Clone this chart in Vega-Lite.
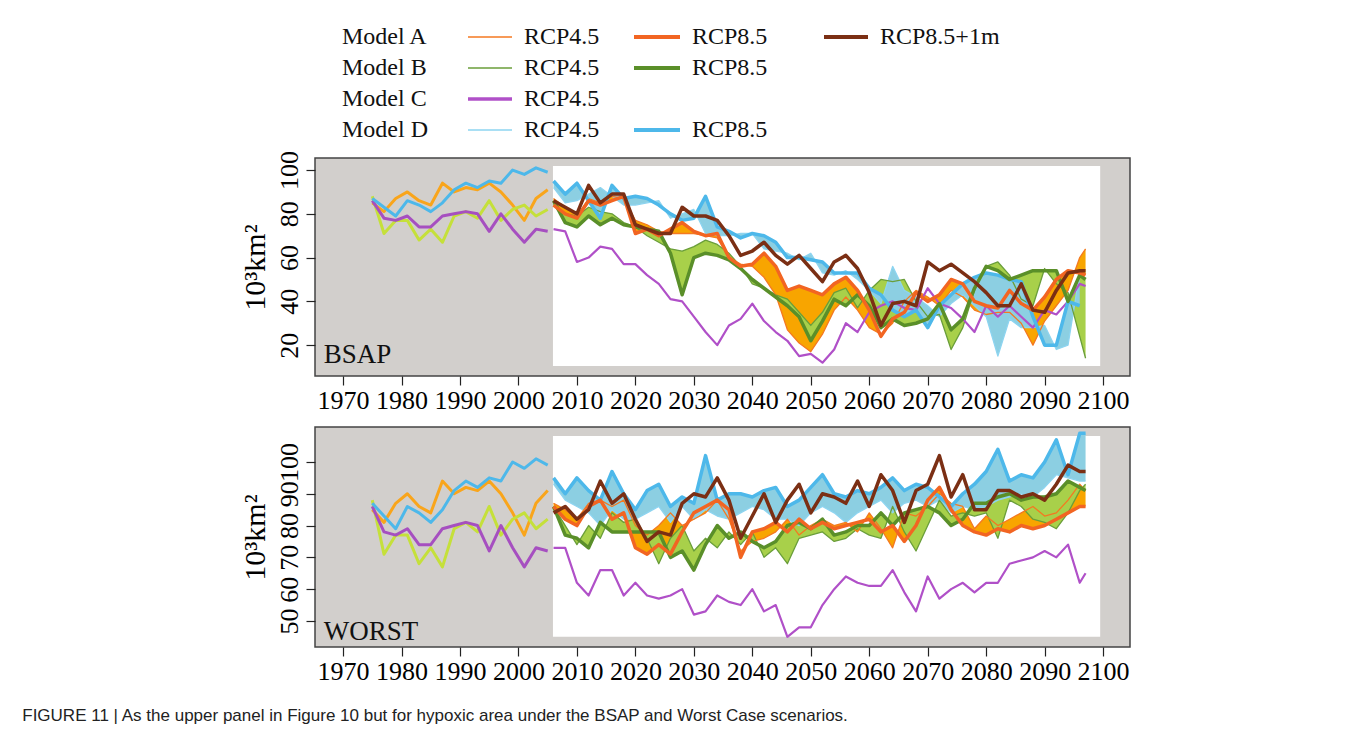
{
  "$schema": "https://vega.github.io/schema/vega-lite/v6.json",
  "background": "white",
  "padding": {"left": 22, "top": 0, "right": 0, "bottom": 0},
  "spacing": 51,
  "bounds": "flush",
  "title": {
    "text": "FIGURE 11 | As the upper panel in Figure 10 but for hypoxic area under the BSAP and Worst Case scenarios.",
    "orient": "bottom",
    "anchor": "start",
    "font": "Liberation Sans Narrow, Liberation Sans",
    "fontSize": 17,
    "fontWeight": "normal",
    "color": "#222",
    "dx": -217,
    "offset": 23
  },
  "datasets": {
    "hist": [
      {"yr": 1975, "hA": 85, "hB": 88, "hC": 86, "hD": 87},
      {"yr": 1977, "hA": 81, "hB": 71, "hC": 78, "hD": 83},
      {"yr": 1979, "hA": 87, "hB": 77, "hC": 77, "hD": 79},
      {"yr": 1981, "hA": 90, "hB": 77, "hC": 79, "hD": 86},
      {"yr": 1983, "hA": 86, "hB": 68, "hC": 74, "hD": 84},
      {"yr": 1985, "hA": 84, "hB": 73, "hC": 74, "hD": 81},
      {"yr": 1987, "hA": 94, "hB": 67, "hC": 79, "hD": 85},
      {"yr": 1989, "hA": 90, "hB": 79, "hC": 80, "hD": 91},
      {"yr": 1991, "hA": 92, "hB": 81, "hC": 81, "hD": 94},
      {"yr": 1993, "hA": 91, "hB": 78, "hC": 80, "hD": 92},
      {"yr": 1995, "hA": 94, "hB": 86, "hC": 72, "hD": 95},
      {"yr": 1997, "hA": 90, "hB": 77, "hC": 80, "hD": 94},
      {"yr": 1999, "hA": 84, "hB": 82, "hC": 73, "hD": 100},
      {"yr": 2001, "hA": 77, "hB": 84, "hC": 67, "hD": 98},
      {"yr": 2003, "hA": 87, "hB": 79, "hC": 73, "hD": 101},
      {"yr": 2005, "hA": 91, "hB": 82, "hC": 72, "hD": 99}
    ],
    "bsap": [
      {"yr": 2006, "a45": 87, "a85": 84, "a1m": 86, "b45": 84, "b85": 86, "c": 73, "d45": 92, "d85": 95},
      {"yr": 2008, "a45": 83, "a85": 80, "a1m": 83, "b45": 80, "b85": 76, "c": 72, "d45": 85, "d85": 89},
      {"yr": 2010, "a45": 79, "a85": 78, "a1m": 80, "b45": 79, "b85": 74, "c": 58, "d45": 86, "d85": 94},
      {"yr": 2012, "a45": 87, "a85": 86, "a1m": 93, "b45": 83, "b85": 79, "c": 60, "d45": 89, "d85": 86},
      {"yr": 2014, "a45": 85, "a85": 84, "a1m": 85, "b45": 81, "b85": 75, "c": 65, "d45": 92, "d85": 78},
      {"yr": 2016, "a45": 88, "a85": 86, "a1m": 89, "b45": 80, "b85": 78, "c": 64, "d45": 88, "d85": 93},
      {"yr": 2018, "a45": 87, "a85": 88, "a1m": 89, "b45": 76, "b85": 75, "c": 57, "d45": 84, "d85": 87},
      {"yr": 2020, "a45": 77, "a85": 71, "a1m": 75, "b45": 74, "b85": 74, "c": 57, "d45": 84, "d85": 88},
      {"yr": 2022, "a45": 75, "a85": 73, "a1m": 73, "b45": 70, "b85": 73, "c": 52, "d45": 85, "d85": 87},
      {"yr": 2024, "a45": 72, "a85": 70, "a1m": 71, "b45": 67, "b85": 72, "c": 48, "d45": 86, "d85": 84},
      {"yr": 2026, "a45": 71, "a85": 73, "a1m": 71, "b45": 64, "b85": 62, "c": 41, "d45": 78, "d85": 80},
      {"yr": 2028, "a45": 71, "a85": 76, "a1m": 83, "b45": 63, "b85": 43, "c": 40, "d45": 80, "d85": 77},
      {"yr": 2030, "a45": 71, "a85": 72, "a1m": 79, "b45": 65, "b85": 60, "c": 33, "d45": 82, "d85": 78},
      {"yr": 2032, "a45": 70, "a85": 70, "a1m": 79, "b45": 68, "b85": 62, "c": 26, "d45": 71, "d85": 88},
      {"yr": 2034, "a45": 69, "a85": 71, "a1m": 77, "b45": 66, "b85": 61, "c": 20, "d45": 70, "d85": 74},
      {"yr": 2036, "a45": 60, "a85": 60, "a1m": 70, "b45": 62, "b85": 59, "c": 29, "d45": 70, "d85": 72},
      {"yr": 2038, "a45": 57, "a85": 56, "a1m": 61, "b45": 56, "b85": 55, "c": 32, "d45": 71, "d85": 69},
      {"yr": 2040, "a45": 56, "a85": 57, "a1m": 63, "b45": 48, "b85": 50, "c": 39, "d45": 71, "d85": 71},
      {"yr": 2042, "a45": 51, "a85": 62, "a1m": 67, "b45": 46, "b85": 46, "c": 31, "d45": 64, "d85": 70},
      {"yr": 2044, "a45": 43, "a85": 56, "a1m": 61, "b45": 43, "b85": 42, "c": 26, "d45": 63, "d85": 67},
      {"yr": 2046, "a45": 27, "a85": 45, "a1m": 57, "b45": 41, "b85": 38, "c": 22, "d45": 62, "d85": 60},
      {"yr": 2048, "a45": 21, "a85": 47, "a1m": 61, "b45": 35, "b85": 33, "c": 15, "d45": 59, "d85": 60},
      {"yr": 2050, "a45": 17, "a85": 45, "a1m": 55, "b45": 29, "b85": 22, "c": 16, "d45": 62, "d85": 59},
      {"yr": 2052, "a45": 25, "a85": 43, "a1m": 49, "b45": 35, "b85": 31, "c": 12, "d45": 53, "d85": 58},
      {"yr": 2054, "a45": 36, "a85": 48, "a1m": 58, "b45": 44, "b85": 41, "c": 18, "d45": 52, "d85": 53},
      {"yr": 2056, "a45": 42, "a85": 51, "a1m": 61, "b45": 46, "b85": 38, "c": 30, "d45": 54, "d85": 53},
      {"yr": 2058, "a45": 36, "a85": 45, "a1m": 55, "b45": 37, "b85": 43, "c": 26, "d45": 50, "d85": 53},
      {"yr": 2060, "a45": 28, "a85": 36, "a1m": 44, "b45": 45, "b85": 38, "c": 35, "d45": 45, "d85": 46},
      {"yr": 2062, "a45": 25, "a85": 24, "a1m": 29, "b45": 50, "b85": 28, "c": 38, "d45": 39, "d85": 43},
      {"yr": 2064, "a45": 30, "a85": 32, "a1m": 39, "b45": 49, "b85": 32, "c": 40, "d45": 56, "d85": 36},
      {"yr": 2066, "a45": 40, "a85": 35, "a1m": 40, "b45": 50, "b85": 29, "c": 37, "d45": 45, "d85": 33},
      {"yr": 2068, "a45": 45, "a85": 44, "a1m": 38, "b45": 40, "b85": 30, "c": 36, "d45": 42, "d85": 36},
      {"yr": 2070, "a45": 42, "a85": 40, "a1m": 58, "b45": 33, "b85": 32, "c": 46, "d45": 38, "d85": 28},
      {"yr": 2072, "a45": 38, "a85": 43, "a1m": 54, "b45": 34, "b85": 39, "c": 39, "d45": 33, "d85": 38},
      {"yr": 2074, "a45": 45, "a85": 50, "a1m": 57, "b45": 18, "b85": 27, "c": 37, "d45": 39, "d85": 43},
      {"yr": 2076, "a45": 42, "a85": 48, "a1m": 53, "b45": 28, "b85": 32, "c": 32, "d45": 43, "d85": 48},
      {"yr": 2078, "a45": 36, "a85": 40, "a1m": 49, "b45": 45, "b85": 46, "c": 26, "d45": 38, "d85": 51},
      {"yr": 2080, "a45": 34, "a85": 38, "a1m": 44, "b45": 56, "b85": 56, "c": 38, "d45": 33, "d85": 53},
      {"yr": 2082, "a45": 35, "a85": 37, "a1m": 38, "b45": 58, "b85": 54, "c": 33, "d45": 15, "d85": 52},
      {"yr": 2084, "a45": 35, "a85": 45, "a1m": 38, "b45": 52, "b85": 50, "c": 38, "d45": 32, "d85": 50},
      {"yr": 2086, "a45": 30, "a85": 39, "a1m": 48, "b45": 41, "b85": 52, "c": 33, "d45": 28, "d85": 49},
      {"yr": 2088, "a45": 20, "a85": 36, "a1m": 36, "b45": 38, "b85": 54, "c": 28, "d45": 28, "d85": 33},
      {"yr": 2090, "a45": 31, "a85": 42, "a1m": 35, "b45": 55, "b85": 54, "c": 36, "d45": 29, "d85": 20},
      {"yr": 2092, "a45": 38, "a85": 50, "a1m": 45, "b45": 48, "b85": 54, "c": 34, "d45": 18, "d85": 20},
      {"yr": 2094, "a45": 45, "a85": 54, "a1m": 53, "b45": 44, "b85": 40, "c": 40, "d45": 20, "d85": 40},
      {"yr": 2096, "a45": 60, "a85": 53, "a1m": 54, "b45": 24, "b85": 52, "c": 48, "d45": 53, "d85": 38},
      {"yr": 2097, "a45": 64, "a85": 52, "a1m": 54, "b45": 14, "b85": 50, "c": 47, "d45": null, "d85": null}
    ],
    "worst": [
      {"yr": 2006, "a45": 87, "a85": 86, "a1m": 84, "b45": 86, "b85": 86, "c": 73, "d45": 93, "d85": 95},
      {"yr": 2008, "a45": 85, "a85": 82, "a1m": 86, "b45": 80, "b85": 77, "c": 73, "d45": 88, "d85": 90},
      {"yr": 2010, "a45": 82, "a85": 80, "a1m": 82, "b45": 74, "b85": 76, "c": 62, "d45": 86, "d85": 95},
      {"yr": 2012, "a45": 87, "a85": 86, "a1m": 85, "b45": 80, "b85": 73, "c": 58, "d45": 84, "d85": 91},
      {"yr": 2014, "a45": 88, "a85": 88, "a1m": 94, "b45": 76, "b85": 81, "c": 66, "d45": 80, "d85": 88},
      {"yr": 2016, "a45": 86, "a85": 82, "a1m": 87, "b45": 84, "b85": 78, "c": 66, "d45": 85, "d85": 97},
      {"yr": 2018, "a45": 88, "a85": 84, "a1m": 90, "b45": 81, "b85": 78, "c": 58, "d45": 82, "d85": 90},
      {"yr": 2020, "a45": 80, "a85": 73, "a1m": 82, "b45": 82, "b85": 78, "c": 62, "d45": 82, "d85": 85},
      {"yr": 2022, "a45": 77, "a85": 71, "a1m": 75, "b45": 76, "b85": 78, "c": 58, "d45": 84, "d85": 91},
      {"yr": 2024, "a45": 80, "a85": 74, "a1m": 78, "b45": 68, "b85": 78, "c": 57, "d45": 86, "d85": 93},
      {"yr": 2026, "a45": 84, "a85": 71, "a1m": 77, "b45": 76, "b85": 70, "c": 58, "d45": 81, "d85": 86},
      {"yr": 2028, "a45": 80, "a85": 78, "a1m": 87, "b45": 80, "b85": 72, "c": 60, "d45": 86, "d85": 89},
      {"yr": 2030, "a45": 82, "a85": 84, "a1m": 90, "b45": 72, "b85": 66, "c": 52, "d45": 82, "d85": 87},
      {"yr": 2032, "a45": 84, "a85": 86, "a1m": 89, "b45": 76, "b85": 74, "c": 53, "d45": 85, "d85": 102},
      {"yr": 2034, "a45": 88, "a85": 88, "a1m": 95, "b45": 73, "b85": 80, "c": 58, "d45": 83, "d85": 88},
      {"yr": 2036, "a45": 82, "a85": 85, "a1m": 88, "b45": 78, "b85": 76, "c": 56, "d45": 82, "d85": 90},
      {"yr": 2038, "a45": 72, "a85": 70, "a1m": 76, "b45": 74, "b85": 78, "c": 55, "d45": 84, "d85": 90},
      {"yr": 2040, "a45": 75, "a85": 78, "a1m": 83, "b45": 78, "b85": 75, "c": 60, "d45": 86, "d85": 89},
      {"yr": 2042, "a45": 76, "a85": 79, "a1m": 90, "b45": 70, "b85": 73, "c": 53, "d45": 85, "d85": 91},
      {"yr": 2044, "a45": 78, "a85": 81, "a1m": 81, "b45": 73, "b85": 75, "c": 55, "d45": 82, "d85": 92},
      {"yr": 2046, "a45": 82, "a85": 78, "a1m": 88, "b45": 68, "b85": 80, "c": 45, "d45": 82, "d85": 86},
      {"yr": 2048, "a45": 77, "a85": 82, "a1m": 93, "b45": 76, "b85": 81, "c": 48, "d45": 80, "d85": 88},
      {"yr": 2050, "a45": 80, "a85": 79, "a1m": 84, "b45": 77, "b85": 79, "c": 48, "d45": 84, "d85": 92},
      {"yr": 2052, "a45": 82, "a85": 81, "a1m": 90, "b45": 78, "b85": 82, "c": 55, "d45": 86, "d85": 96},
      {"yr": 2054, "a45": 80, "a85": 79, "a1m": 89, "b45": 75, "b85": 77, "c": 60, "d45": 84, "d85": 90},
      {"yr": 2056, "a45": 81, "a85": 80, "a1m": 87, "b45": 76, "b85": 78, "c": 64, "d45": 81, "d85": 89},
      {"yr": 2058, "a45": 78, "a85": 81, "a1m": 94, "b45": 79, "b85": 80, "c": 62, "d45": 84, "d85": 91},
      {"yr": 2060, "a45": 84, "a85": 82, "a1m": 86, "b45": 77, "b85": 80, "c": 61, "d45": 86, "d85": 90},
      {"yr": 2062, "a45": 79, "a85": 78, "a1m": 96, "b45": 76, "b85": 84, "c": 61, "d45": 88, "d85": 92},
      {"yr": 2064, "a45": 73, "a85": 80, "a1m": 91, "b45": 86, "b85": 80, "c": 66, "d45": 84, "d85": 95},
      {"yr": 2066, "a45": 84, "a85": 75, "a1m": 81, "b45": 78, "b85": 84, "c": 59, "d45": 87, "d85": 91},
      {"yr": 2068, "a45": 83, "a85": 80, "a1m": 91, "b45": 72, "b85": 85, "c": 53, "d45": 88, "d85": 93},
      {"yr": 2070, "a45": 86, "a85": 88, "a1m": 93, "b45": 80, "b85": 86, "c": 64, "d45": 86, "d85": 92},
      {"yr": 2072, "a45": 90, "a85": 92, "a1m": 102, "b45": 88, "b85": 84, "c": 57, "d45": 88, "d85": 89},
      {"yr": 2074, "a45": 87, "a85": 85, "a1m": 89, "b45": 83, "b85": 80, "c": 60, "d45": 84, "d85": 86},
      {"yr": 2076, "a45": 86, "a85": 80, "a1m": 96, "b45": 84, "b85": 82, "c": 62, "d45": 86, "d85": 90},
      {"yr": 2078, "a45": 79, "a85": 78, "a1m": 85, "b45": 83, "b85": 87, "c": 59, "d45": 85, "d85": 93},
      {"yr": 2080, "a45": 83, "a85": 77, "a1m": 85, "b45": 84, "b85": 87, "c": 62, "d45": 86, "d85": 97},
      {"yr": 2082, "a45": 80, "a85": 79, "a1m": 91, "b45": 76, "b85": 89, "c": 62, "d45": 88, "d85": 104},
      {"yr": 2084, "a45": 82, "a85": 78, "a1m": 91, "b45": 88, "b85": 90, "c": 68, "d45": 89, "d85": 94},
      {"yr": 2086, "a45": 84, "a85": 80, "a1m": 89, "b45": 86, "b85": 88, "c": 69, "d45": 90, "d85": 96},
      {"yr": 2088, "a45": 86, "a85": 79, "a1m": 90, "b45": 82, "b85": 89, "c": 70, "d45": 89, "d85": 95},
      {"yr": 2090, "a45": 83, "a85": 80, "a1m": 88, "b45": 81, "b85": 89, "c": 72, "d45": 92, "d85": 100},
      {"yr": 2092, "a45": 84, "a85": 82, "a1m": 93, "b45": 79, "b85": 90, "c": 70, "d45": 96, "d85": 107},
      {"yr": 2094, "a45": 88, "a85": 84, "a1m": 99, "b45": 84, "b85": 94, "c": 74, "d45": 95, "d85": 96},
      {"yr": 2096, "a45": 93, "a85": 86, "a1m": 97, "b45": 91, "b85": 92, "c": 62, "d45": 94, "d85": 109},
      {"yr": 2097, "a45": 91, "a85": 86, "a1m": 97, "b45": 93, "b85": 91, "c": 65, "d45": 94, "d85": 109}
    ],
    "legendLines": [
      {"series": "a45", "w": "thin", "row": 1, "x1": 153, "x2": 197},
      {"series": "a85", "w": "thick", "row": 1, "x1": 319, "x2": 365},
      {"series": "a1m", "w": "thick", "row": 1, "x1": 509, "x2": 553},
      {"series": "b45", "w": "thin", "row": 2, "x1": 153, "x2": 197},
      {"series": "b85", "w": "thick", "row": 2, "x1": 319, "x2": 365},
      {"series": "c", "w": "mid", "row": 3, "x1": 153, "x2": 197},
      {"series": "d45", "w": "thin", "row": 4, "x1": 153, "x2": 197},
      {"series": "d85", "w": "thick", "row": 4, "x1": 319, "x2": 365}
    ],
    "legendText": [
      {"row": 1, "x": 27, "label": "Model A"},
      {"row": 2, "x": 27, "label": "Model B"},
      {"row": 3, "x": 27, "label": "Model C"},
      {"row": 4, "x": 27, "label": "Model D"},
      {"row": 1, "x": 209, "label": "RCP4.5"},
      {"row": 1, "x": 377, "label": "RCP8.5"},
      {"row": 1, "x": 565, "label": "RCP8.5+1m"},
      {"row": 2, "x": 209, "label": "RCP4.5"},
      {"row": 2, "x": 377, "label": "RCP8.5"},
      {"row": 3, "x": 209, "label": "RCP4.5"},
      {"row": 4, "x": 209, "label": "RCP4.5"},
      {"row": 4, "x": 377, "label": "RCP8.5"}
    ]
  },
  "vconcat": [
    {
      "width": 815,
      "height": 107,
      "view": {"stroke": null, "fill": null},
      "encoding": {
        "x": {"field": "x1", "type": "quantitative", "scale": {"domain": [0, 815]}, "axis": null},
        "y": {"field": "row", "type": "quantitative", "scale": {"domain": [-0.194, 3.258], "reverse": true}, "axis": null}
      },
      "layer": [
        {
          "data": {"name": "legendLines"},
          "transform": [{"filter": "datum.w === 'thin'"}],
          "mark": {"type": "rule", "strokeWidth": 1.3},
          "encoding": {"x2": {"field": "x2"}, "color": {"field": "series", "type": "nominal", "legend": null, "scale": {"domain": ["hA", "hB", "hC", "hD", "c", "d45", "b45", "a45", "d85", "b85", "a85", "a1m"], "range": ["#f9a51b", "#c5e03a", "#a64fc0", "#4db8ea", "#b050c8", "#8dd4f0", "#6a9e3a", "#f47920", "#4db8ea", "#5a8f29", "#f26522", "#7b2f14"]}}}
        },
        {
          "data": {"name": "legendLines"},
          "transform": [{"filter": "datum.w === 'mid'"}],
          "mark": {"type": "rule", "strokeWidth": 3.5},
          "encoding": {"x2": {"field": "x2"}, "color": {"field": "series", "type": "nominal", "legend": null, "scale": {"domain": ["hA", "hB", "hC", "hD", "c", "d45", "b45", "a45", "d85", "b85", "a85", "a1m"], "range": ["#f9a51b", "#c5e03a", "#a64fc0", "#4db8ea", "#b050c8", "#8dd4f0", "#6a9e3a", "#f47920", "#4db8ea", "#5a8f29", "#f26522", "#7b2f14"]}}}
        },
        {
          "data": {"name": "legendLines"},
          "transform": [{"filter": "datum.w === 'thick'"}],
          "mark": {"type": "rule", "strokeWidth": 3.8},
          "encoding": {"x2": {"field": "x2"}, "color": {"field": "series", "type": "nominal", "legend": null, "scale": {"domain": ["hA", "hB", "hC", "hD", "c", "d45", "b45", "a45", "d85", "b85", "a85", "a1m"], "range": ["#f9a51b", "#c5e03a", "#a64fc0", "#4db8ea", "#b050c8", "#8dd4f0", "#6a9e3a", "#f47920", "#4db8ea", "#5a8f29", "#f26522", "#7b2f14"]}}}
        },
        {
          "data": {"name": "legendText"},
          "mark": {"type": "text", "align": "left", "baseline": "middle", "font": "Liberation Serif", "fontSize": 24, "color": "#111"},
          "encoding": {
            "x": {"field": "x", "type": "quantitative", "scale": {"domain": [0, 815]}, "axis": null},
            "text": {"field": "label"}
          }
        }
      ]
    },
    {
      "width": 815,
      "height": 218,
      "view": {"fill": "#d2cfcc", "stroke": "#444", "strokeWidth": 1.5},
      "layer": [
        {
          "data": {"values": [{"yr": 2005.9, "yr2": 2099.5, "v": 10.5, "v2": 101.8}]},
          "mark": {"type": "rect", "fill": "white"},
          "encoding": {
            "x": {
              "field": "yr", "type": "quantitative", "title": null,
              "scale": {"domain": [1965.2, 2104.6], "nice": false, "zero": false},
              "axis": {
                "values": [1970, 1975, 1980, 1985, 1990, 1995, 2000, 2005, 2010, 2015, 2020, 2025, 2030, 2035, 2040, 2045, 2050, 2055, 2060, 2065, 2070, 2075, 2080, 2085, 2090, 2095, 2100],
                "format": "d", "labelExpr": "datum.value % 10 === 0 ? datum.label : ''",
                "labelOverlap": false, "labelFlush": false, "labelPadding": 2, "tickSize": 9
              }
            },
            "x2": {"field": "yr2"},
            "y": {
              "field": "v", "type": "quantitative", "title": "10³km²",
              "scale": {"domain": [5.9, 105.5], "nice": false, "zero": false},
              "axis": {"values": [20, 40, 60, 80, 100], "labelAngle": -90, "labelAlign": "center", "labelBaseline": "bottom", "labelPadding": 4, "labelOverlap": false, "tickSize": 9, "titlePadding": 6}
            },
            "y2": {"field": "v2"}
          }
        },
        {
          "data": {"name": "bsap"},
          "transform": [{"filter": "isValid(datum.a45)"}],
          "mark": {"type": "area", "color": "#f8a500", "opacity": 1},
          "encoding": {
            "x": {"field": "yr", "type": "quantitative", "title": null},
            "y": {"field": "a45", "type": "quantitative", "title": "10³km²"},
            "y2": {"field": "a85"}
          }
        },
        {
          "data": {"name": "bsap"},
          "transform": [{"filter": "isValid(datum.b45)"}],
          "mark": {"type": "area", "color": "#a8d04a", "opacity": 1},
          "encoding": {
            "x": {"field": "yr", "type": "quantitative", "title": null},
            "y": {"field": "b45", "type": "quantitative", "title": "10³km²"},
            "y2": {"field": "b85"}
          }
        },
        {
          "data": {"name": "bsap"},
          "transform": [{"filter": "isValid(datum.d45)"}],
          "mark": {"type": "area", "color": "#8ccfe2", "opacity": 1},
          "encoding": {
            "x": {"field": "yr", "type": "quantitative", "title": null},
            "y": {"field": "d45", "type": "quantitative", "title": "10³km²"},
            "y2": {"field": "d85"}
          }
        },
        {
          "data": {"name": "hist"},
          "transform": [{"fold": ["hA", "hB", "hC", "hD"], "as": ["series", "value"]}],
          "mark": {"type": "line", "strokeJoin": "round", "strokeWidth": 3},
          "encoding": {
            "x": {"field": "yr", "type": "quantitative", "title": null},
            "y": {"field": "value", "type": "quantitative", "title": "10³km²"},
            "color": {"field": "series", "type": "nominal", "legend": null, "scale": {"domain": ["hA", "hB", "hC", "hD", "c", "d45", "b45", "a45", "d85", "b85", "a85", "a1m"], "range": ["#f9a51b", "#c5e03a", "#a64fc0", "#4db8ea", "#b050c8", "#8dd4f0", "#6a9e3a", "#f47920", "#4db8ea", "#5a8f29", "#f26522", "#7b2f14"]}}
          }
        },
        {
          "data": {"name": "bsap"},
          "transform": [{"fold": ["d45", "b45", "a45"], "as": ["series", "value"]}, {"filter": "isValid(datum.value)"}],
          "mark": {"type": "line", "strokeJoin": "round", "strokeWidth": 1.3},
          "encoding": {
            "x": {"field": "yr", "type": "quantitative", "title": null},
            "y": {"field": "value", "type": "quantitative", "title": "10³km²"},
            "color": {"field": "series", "type": "nominal", "legend": null, "scale": {"domain": ["hA", "hB", "hC", "hD", "c", "d45", "b45", "a45", "d85", "b85", "a85", "a1m"], "range": ["#f9a51b", "#c5e03a", "#a64fc0", "#4db8ea", "#b050c8", "#8dd4f0", "#6a9e3a", "#f47920", "#4db8ea", "#5a8f29", "#f26522", "#7b2f14"]}}
          }
        },
        {
          "data": {"name": "bsap"},
          "transform": [{"fold": ["c"], "as": ["series", "value"]}],
          "mark": {"type": "line", "strokeJoin": "round", "strokeWidth": 2.2},
          "encoding": {
            "x": {"field": "yr", "type": "quantitative", "title": null},
            "y": {"field": "value", "type": "quantitative", "title": "10³km²"},
            "color": {"field": "series", "type": "nominal", "legend": null, "scale": {"domain": ["hA", "hB", "hC", "hD", "c", "d45", "b45", "a45", "d85", "b85", "a85", "a1m"], "range": ["#f9a51b", "#c5e03a", "#a64fc0", "#4db8ea", "#b050c8", "#8dd4f0", "#6a9e3a", "#f47920", "#4db8ea", "#5a8f29", "#f26522", "#7b2f14"]}}
          }
        },
        {
          "data": {"name": "bsap"},
          "transform": [{"fold": ["d85", "b85", "a85", "a1m"], "as": ["series", "value"]}, {"filter": "isValid(datum.value)"}],
          "mark": {"type": "line", "strokeJoin": "round", "strokeWidth": 3.5},
          "encoding": {
            "x": {"field": "yr", "type": "quantitative", "title": null},
            "y": {"field": "value", "type": "quantitative", "title": "10³km²"},
            "color": {"field": "series", "type": "nominal", "legend": null, "scale": {"domain": ["hA", "hB", "hC", "hD", "c", "d45", "b45", "a45", "d85", "b85", "a85", "a1m"], "range": ["#f9a51b", "#c5e03a", "#a64fc0", "#4db8ea", "#b050c8", "#8dd4f0", "#6a9e3a", "#f47920", "#4db8ea", "#5a8f29", "#f26522", "#7b2f14"]}}
          }
        },
        {
          "data": {"values": [{"yr": 1966.7, "v": 15.5, "label": "BSAP"}]},
          "mark": {"type": "text", "align": "left", "baseline": "middle", "font": "Liberation Serif", "fontSize": 27, "color": "#111"},
          "encoding": {
            "x": {"field": "yr", "type": "quantitative", "title": null},
            "y": {"field": "v", "type": "quantitative", "title": "10³km²"},
            "text": {"field": "label"}
          }
        }
      ]
    },
    {
      "width": 815,
      "height": 220,
      "view": {"fill": "#d2cfcc", "stroke": "#444", "strokeWidth": 1.5},
      "layer": [
        {
          "data": {"values": [{"yr": 2005.9, "yr2": 2099.5, "v": 45, "v2": 108.2}]},
          "mark": {"type": "rect", "fill": "white"},
          "encoding": {
            "x": {
              "field": "yr", "type": "quantitative", "title": null,
              "scale": {"domain": [1965.2, 2104.6], "nice": false, "zero": false},
              "axis": {
                "values": [1970, 1975, 1980, 1985, 1990, 1995, 2000, 2005, 2010, 2015, 2020, 2025, 2030, 2035, 2040, 2045, 2050, 2055, 2060, 2065, 2070, 2075, 2080, 2085, 2090, 2095, 2100],
                "format": "d", "labelExpr": "datum.value % 10 === 0 ? datum.label : ''",
                "labelOverlap": false, "labelFlush": false, "labelPadding": 2, "tickSize": 9
              }
            },
            "x2": {"field": "yr2"},
            "y": {
              "field": "v", "type": "quantitative", "title": "10³km²",
              "scale": {"domain": [41.8, 111], "nice": false, "zero": false},
              "axis": {"values": [50, 60, 70, 80, 90, 100], "labelAngle": -90, "labelAlign": "center", "labelBaseline": "bottom", "labelPadding": 4, "labelOverlap": false, "tickSize": 9, "titlePadding": 6}
            },
            "y2": {"field": "v2"}
          }
        },
        {
          "data": {"name": "worst"},
          "mark": {"type": "area", "color": "#f8a500", "opacity": 1},
          "encoding": {
            "x": {"field": "yr", "type": "quantitative", "title": null},
            "y": {"field": "a45", "type": "quantitative", "title": "10³km²"},
            "y2": {"field": "a85"}
          }
        },
        {
          "data": {"name": "worst"},
          "mark": {"type": "area", "color": "#a8d04a", "opacity": 1},
          "encoding": {
            "x": {"field": "yr", "type": "quantitative", "title": null},
            "y": {"field": "b45", "type": "quantitative", "title": "10³km²"},
            "y2": {"field": "b85"}
          }
        },
        {
          "data": {"name": "worst"},
          "mark": {"type": "area", "color": "#8ccfe2", "opacity": 1},
          "encoding": {
            "x": {"field": "yr", "type": "quantitative", "title": null},
            "y": {"field": "d45", "type": "quantitative", "title": "10³km²"},
            "y2": {"field": "d85"}
          }
        },
        {
          "data": {"name": "hist"},
          "transform": [{"fold": ["hA", "hB", "hC", "hD"], "as": ["series", "value"]}],
          "mark": {"type": "line", "strokeJoin": "round", "strokeWidth": 3},
          "encoding": {
            "x": {"field": "yr", "type": "quantitative", "title": null},
            "y": {"field": "value", "type": "quantitative", "title": "10³km²"},
            "color": {"field": "series", "type": "nominal", "legend": null, "scale": {"domain": ["hA", "hB", "hC", "hD", "c", "d45", "b45", "a45", "d85", "b85", "a85", "a1m"], "range": ["#f9a51b", "#c5e03a", "#a64fc0", "#4db8ea", "#b050c8", "#8dd4f0", "#6a9e3a", "#f47920", "#4db8ea", "#5a8f29", "#f26522", "#7b2f14"]}}
          }
        },
        {
          "data": {"name": "worst"},
          "transform": [{"fold": ["d45", "b45", "a45"], "as": ["series", "value"]}, {"filter": "isValid(datum.value)"}],
          "mark": {"type": "line", "strokeJoin": "round", "strokeWidth": 1.3},
          "encoding": {
            "x": {"field": "yr", "type": "quantitative", "title": null},
            "y": {"field": "value", "type": "quantitative", "title": "10³km²"},
            "color": {"field": "series", "type": "nominal", "legend": null, "scale": {"domain": ["hA", "hB", "hC", "hD", "c", "d45", "b45", "a45", "d85", "b85", "a85", "a1m"], "range": ["#f9a51b", "#c5e03a", "#a64fc0", "#4db8ea", "#b050c8", "#8dd4f0", "#6a9e3a", "#f47920", "#4db8ea", "#5a8f29", "#f26522", "#7b2f14"]}}
          }
        },
        {
          "data": {"name": "worst"},
          "transform": [{"fold": ["c"], "as": ["series", "value"]}],
          "mark": {"type": "line", "strokeJoin": "round", "strokeWidth": 2.2},
          "encoding": {
            "x": {"field": "yr", "type": "quantitative", "title": null},
            "y": {"field": "value", "type": "quantitative", "title": "10³km²"},
            "color": {"field": "series", "type": "nominal", "legend": null, "scale": {"domain": ["hA", "hB", "hC", "hD", "c", "d45", "b45", "a45", "d85", "b85", "a85", "a1m"], "range": ["#f9a51b", "#c5e03a", "#a64fc0", "#4db8ea", "#b050c8", "#8dd4f0", "#6a9e3a", "#f47920", "#4db8ea", "#5a8f29", "#f26522", "#7b2f14"]}}
          }
        },
        {
          "data": {"name": "worst"},
          "transform": [{"fold": ["d85", "b85", "a85", "a1m"], "as": ["series", "value"]}, {"filter": "isValid(datum.value)"}],
          "mark": {"type": "line", "strokeJoin": "round", "strokeWidth": 3.5},
          "encoding": {
            "x": {"field": "yr", "type": "quantitative", "title": null},
            "y": {"field": "value", "type": "quantitative", "title": "10³km²"},
            "color": {"field": "series", "type": "nominal", "legend": null, "scale": {"domain": ["hA", "hB", "hC", "hD", "c", "d45", "b45", "a45", "d85", "b85", "a85", "a1m"], "range": ["#f9a51b", "#c5e03a", "#a64fc0", "#4db8ea", "#b050c8", "#8dd4f0", "#6a9e3a", "#f47920", "#4db8ea", "#5a8f29", "#f26522", "#7b2f14"]}}
          }
        },
        {
          "data": {"values": [{"yr": 1966.7, "v": 46.5, "label": "WORST"}]},
          "mark": {"type": "text", "align": "left", "baseline": "middle", "font": "Liberation Serif", "fontSize": 27, "color": "#111"},
          "encoding": {
            "x": {"field": "yr", "type": "quantitative", "title": null},
            "y": {"field": "v", "type": "quantitative", "title": "10³km²"},
            "text": {"field": "label"}
          }
        }
      ]
    }
  ],
  "resolve": {"scale": {"color": "shared"}},
  "config": {
    "font": "Liberation Serif",
    "axis": {
      "labelFont": "Liberation Serif",
      "titleFont": "Liberation Serif",
      "labelFontSize": 26,
      "titleFontSize": 30,
      "titleFontWeight": "normal",
      "labelColor": "#000",
      "titleColor": "#000",
      "tickColor": "#222",
      "tickWidth": 1.2,
      "domain": false,
      "grid": false
    }
  }
}
